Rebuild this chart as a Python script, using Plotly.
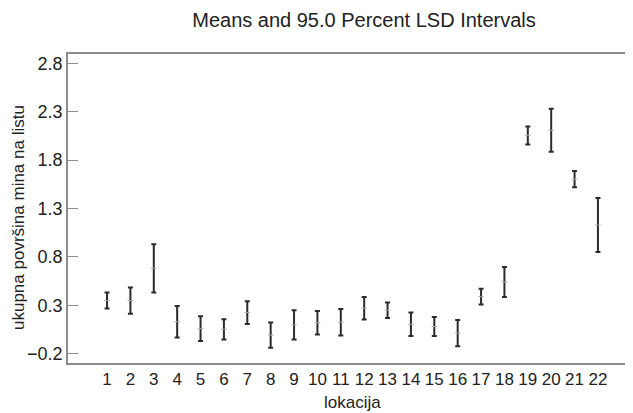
import plotly.graph_objects as go

categories = list(range(1, 23))
means = [0.348, 0.348, 0.681, 0.129, 0.058, 0.051, 0.224, -0.009, 0.097, 0.119, 0.124,
         0.269, 0.248, 0.103, 0.080, 0.012, 0.388, 0.541, 2.055, 2.108, 1.603, 1.129]
half_widths = [0.083, 0.135, 0.250, 0.163, 0.128, 0.104, 0.118, 0.130, 0.152, 0.122, 0.138,
               0.117, 0.080, 0.121, 0.099, 0.136, 0.081, 0.155, 0.093, 0.222, 0.083, 0.278]
y_ticks = [-0.2, 0.3, 0.8, 1.3, 1.8, 2.3, 2.8]
y_tick_text = ["\u22120.2", "0.3", "0.8", "1.3", "1.8", "2.3", "2.8"]

font_family = "Liberation Sans, Arial, sans-serif"
text_color = "#222222"
axis_color = "#8c8c8c"

# the page body has an 8px margin, so the figure is drawn from (8, 8)
W, H = 625, 405

fig = go.Figure()
fig.add_trace(go.Scatter(
    x=categories, y=means, mode="markers",
    marker=dict(symbol="line-ew", size=4, color="#aaaaaa", line=dict(width=1, color="#aaaaaa")),
    error_y=dict(type="data", array=half_widths, symmetric=True,
                 color="#2b2b2b", thickness=2, width=2.5),
    showlegend=False, hoverinfo="skip",
))
fig.add_trace(go.Scatter(
    x=categories, y=means, mode="markers", yaxis="y2",
    marker=dict(opacity=0), showlegend=False, hoverinfo="skip",
))

fig.update_layout(
    width=W, height=H,
    margin=dict(l=60, r=0, t=46, b=50, autoexpand=False),
    paper_bgcolor="white", plot_bgcolor="white",
    font=dict(family=font_family, size=17, color=text_color),
    title=dict(text="Means and 95.0 Percent LSD Intervals", x=356 / W, xanchor="center",
               y=1 - 12 / H, yanchor="middle", font=dict(size=20, color=text_color)),
    xaxis=dict(
        range=[-0.67, 23.5], tickvals=categories, ticktext=[str(c) for c in categories],
        showgrid=False, zeroline=False, showline=True, linecolor=axis_color, linewidth=1.5,
        mirror=True, ticks="", ticklabelstandoff=0, automargin=False,
        tickfont=dict(size=17),
    ),
    yaxis=dict(
        range=[-0.297, 2.896], tickvals=y_ticks, ticktext=y_tick_text,
        showgrid=False, zeroline=False, showline=True, linecolor=axis_color, linewidth=1.5,
        ticks="inside", ticklen=10, tickcolor=axis_color, tickwidth=1, automargin=False,
        tickfont=dict(size=18),
    ),
    yaxis2=dict(
        range=[-0.297, 2.896], tickvals=y_ticks, overlaying="y", side="right",
        showgrid=False, zeroline=False, showline=False, showticklabels=False,
        ticks="inside", ticklen=6, tickcolor=axis_color, tickwidth=1.5, automargin=False,
    ),
    annotations=[
        dict(text="ukupna površina mina na listu", xref="paper", yref="paper",
             x=0, y=(363 - 218) / 309, xanchor="center", yanchor="middle",
             xshift=18 - 68, textangle=-90, showarrow=False, borderpad=0,
             font=dict(size=17, color=text_color)),
        dict(text="lokacija", xref="paper", yref="paper",
             x=(352 - 68) / 565, y=0, xanchor="center", yanchor="middle",
             yshift=-39, showarrow=False, font=dict(size=17, color=text_color)),
    ],
)

fig.write_html("out.html")
